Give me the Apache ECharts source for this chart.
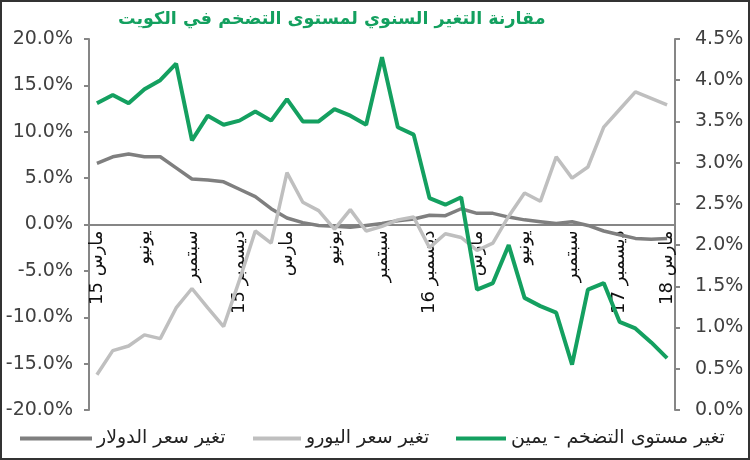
<!DOCTYPE html>
<html>
<head>
<meta charset="utf-8">
<script src="https://cdn.jsdelivr.net/npm/echarts@6/dist/echarts.min.js"></script>
<style>
  html, body { margin: 0; padding: 0; background: #fff; }
  #chart { width: 750px; height: 460px; }
</style>
</head>
<body>
<div id="chart"></div>
<script>
// monthly, March 2015 .. March 2018
const months = [
  'مارس 15', 'أبريل 15', 'مايو 15', 'يونيو 15', 'يوليو 15', 'أغسطس 15', 'سبتمبر 15', 'أكتوبر 15', 'نوفمبر 15', 'ديسمبر 15',
  'يناير 16', 'فبراير 16', 'مارس 16', 'أبريل 16', 'مايو 16', 'يونيو 16', 'يوليو 16', 'أغسطس 16', 'سبتمبر 16', 'أكتوبر 16', 'نوفمبر 16', 'ديسمبر 16',
  'يناير 17', 'فبراير 17', 'مارس 17', 'أبريل 17', 'مايو 17', 'يونيو 17', 'يوليو 17', 'أغسطس 17', 'سبتمبر 17', 'أكتوبر 17', 'نوفمبر 17', 'ديسمبر 17',
  'يناير 18', 'فبراير 18', 'مارس 18',
]
// one label every 3 months
const tickLabels = ['مارس 15', 'يونيو', 'سبتمبر', 'ديسمبر 15', 'مارس', 'يونيو', 'سبتمبر', 'ديسمبر 16', 'مارس', 'يونيو', 'سبتمبر', 'ديسمبر 17', 'مارس 18']

const seriesNames = ['تغير سعر الدولار', 'تغير سعر اليورو', 'تغير مستوى التضخم - يمين']

// left axis, %
const dollarChange = [6.6, 7.3, 7.6, 7.3, 7.3, 6.1, 4.9, 4.8, 4.6, 3.8, 3.0, 1.7, 0.7, 0.2, -0.1, -0.2, -0.3, -0.1, 0.1, 0.4,
  0.6, 1.0, 0.95, 1.7, 1.2, 1.2, 0.8, 0.5, 0.3, 0.1, 0.3, -0.1, -0.7, -1.1, -1.5, -1.6, -1.5]
const euroChange = [-16.2, -13.6, -13.1, -11.9, -12.3, -9.0, -6.9, -9.0, -11.0, -6.0, -0.7, -2.0, 5.6, 2.4, 1.5, -0.5, 1.6, -0.7, -0.2, 0.5,
  0.8, -2.5, -1.0, -1.4, -2.8, -2.0, 0.9, 3.4, 2.5, 7.3, 5.0, 6.2, 10.5, 12.4, 14.3, 13.6, 12.9]
// right axis, %
const inflation = [3.72, 3.82, 3.72, 3.89, 4.00, 4.20, 3.27, 3.57, 3.46, 3.51, 3.62, 3.51, 3.77, 3.50, 3.50, 3.65, 3.57, 3.46, 4.28, 3.43,
  3.34, 2.57, 2.49, 2.58, 1.46, 1.54, 2.00, 1.36, 1.26, 1.18, 0.55, 1.46, 1.54, 1.07, 0.99, 0.82, 0.63]

const colors = ['#7f7f7f', '#bfbfbf', '#14a060']
const lineWidths = [3.5, 3.5, 4]
const axisColor = '#868686'
const numFont = 'DejaVu Sans'

const gridTop = 39
const gridBottom = 50
const plotHeight = 460 - gridTop - gridBottom

const chart = echarts.init(document.getElementById('chart'))

function lineSeries(idx, data, yIdx) {
  return {
    name: seriesNames[idx],
    type: 'line',
    data: data,
    yAxisIndex: yIdx,
    symbol: 'none',
    smooth: false,
    lineStyle: { width: lineWidths[idx], color: colors[idx] },
    itemStyle: { color: colors[idx] },
  }
}

function valueAxis(pos, min, max, step, margin) {
  return {
    type: 'value',
    position: pos,
    min: min,
    max: max,
    interval: step,
    axisLine: { show: true, onZero: false, lineStyle: { color: axisColor, width: 2 } },
    axisTick: { show: true, length: 5, lineStyle: { color: axisColor, width: 2 } },
    splitLine: { show: false },
    axisLabel: {
      fontFamily: numFont,
      fontSize: 19,
      color: '#404040',
      margin: margin,
      formatter: (val) => val.toFixed(1) + '%',
    },
  }
}

// one legend block per series so each sits where the original has it
function legendItem(idx, left, width) {
  return {
    left: left,
    bottom: 7,
    icon: 'rect',
    itemWidth: width,
    itemHeight: 4,
    textStyle: { fontFamily: 'DejaVu Sans', fontSize: 19, color: '#222' },
    data: [seriesNames[idx]],
  }
}

chart.setOption({
  animation: false,
  title: {
    text: 'مقارنة التغير السنوي لمستوى التضخم في الكويت',
    left: 113,
    top: 5,
    textStyle: { fontFamily: 'DejaVu Sans', fontSize: 17.5, fontWeight: 'bold', color: '#13a05f' },
  },
  graphic: [{
    type: 'rect',
    shape: { x: 1, y: 1, width: 748, height: 458 },
    style: { fill: 'none', stroke: '#333', lineWidth: 2 },
    silent: true,
  }],
  legend: [
    legendItem(0, 15, 72),
    legendItem(1, 248, 48),
    legendItem(2, 451, 50),
  ],
  grid: { left: 89, right: 75, top: gridTop, bottom: gridBottom, outerBoundsMode: 'none' },
  xAxis: {
    type: 'category',
    data: months,
    boundaryGap: true,
    // axis sits on the 0% line of the left axis
    offset: -plotHeight / 2,
    axisLine: { lineStyle: { color: axisColor, width: 2 } },
    axisTick: { interval: 2, length: 5, lineStyle: { color: axisColor, width: 2 } },
    axisLabel: {
      interval: 2,
      rotate: 90,
      margin: 6,
      fontFamily: 'DejaVu Sans',
      fontSize: 18,
      color: '#111',
      formatter: (val, idx) => tickLabels[idx / 3],
    },
    splitLine: { show: false },
  },
  yAxis: [
    valueAxis('left', -20, 20, 5, 16),
    valueAxis('right', 0, 4.5, 0.5, 20),
  ],
  series: [
    lineSeries(0, dollarChange, 0),
    lineSeries(1, euroChange, 0),
    lineSeries(2, inflation, 1),
  ],
})
</script>
</body>
</html>
